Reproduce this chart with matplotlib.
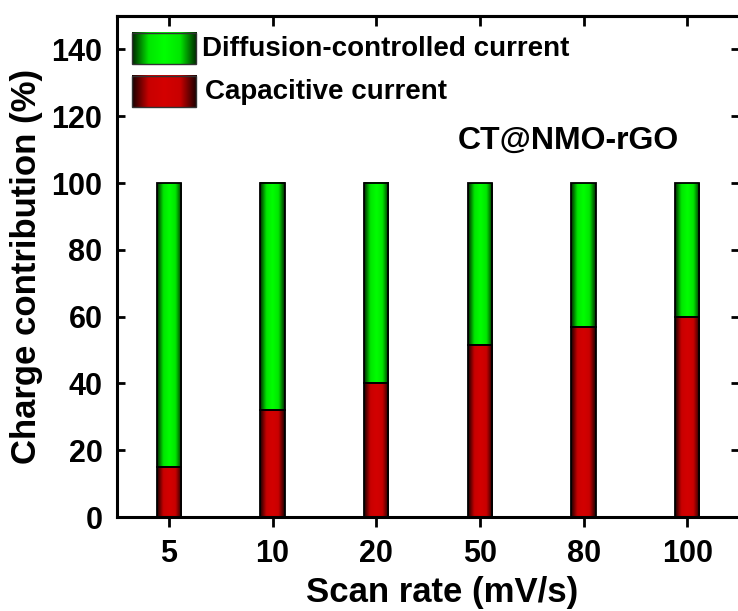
import numpy as np
import matplotlib.pyplot as plt
from matplotlib.colors import LinearSegmentedColormap

plt.rcParams["font.family"] = ["Liberation Sans", "DejaVu Sans"]
plt.rcParams["font.weight"] = "bold"

scan_rates = ["5", "10", "20", "50", "80", "100"]
capacitive = [15, 32, 40, 51.5, 57, 60]
diffusion = [100 - c for c in capacitive]

RED_CMAP = LinearSegmentedColormap.from_list("red", ["#1a0000", "#c80000", "#d40000", "#c80000", "#1a0000"])
GREEN_CMAP = LinearSegmentedColormap.from_list("green", ["#002800", "#00e600", "#00ff00", "#00e600", "#002800"])
GRAD = np.linspace(0, 1, 64).reshape(1, -1)


def gradient_rect(ax, x0, x1, y0, y1, cmap, **kw):
    ax.imshow(GRAD, cmap=cmap, extent=(x0, x1, y0, y1), aspect="auto",
              interpolation="bicubic", zorder=2, **kw)


fig = plt.figure(figsize=(7.38, 6.11), dpi=100)
ax = fig.add_axes([0.1585, 0.1538, 0.843, 0.82])

x = np.arange(len(scan_rates))
width = 0.235
red_bars = ax.bar(x, capacitive, width, facecolor="none", edgecolor="black", lw=1.3, zorder=3)
green_bars = ax.bar(x, diffusion, width, bottom=capacitive, facecolor="none",
                    edgecolor="black", lw=1.3, zorder=3)
for rb, gb in zip(red_bars, green_bars):
    x0, x1 = rb.get_x(), rb.get_x() + rb.get_width()
    gradient_rect(ax, x0, x1, rb.get_y(), rb.get_y() + rb.get_height(), RED_CMAP)
    gradient_rect(ax, x0, x1, gb.get_y(), gb.get_y() + gb.get_height(), GREEN_CMAP)

# legend drawn by hand so the swatches keep the gradient look
legend_items = [("Diffusion-controlled current", GREEN_CMAP, 0.966, 0.136),
                ("Capacitive current", RED_CMAP, 0.880, 0.141)]
for label, cmap, ytop, xtxt in legend_items:
    h = 0.062
    ax.imshow(GRAD, cmap=cmap, extent=(0.024, 0.127, ytop - h, ytop), aspect="auto",
              transform=ax.transAxes, interpolation="bicubic", zorder=4)
    ax.add_patch(plt.Rectangle((0.024, ytop - h), 0.103, h, transform=ax.transAxes,
                               fill=False, edgecolor="#333333", lw=1.0, zorder=5))
    ax.text(xtxt, ytop - h / 2, label, transform=ax.transAxes, fontsize=20,
            fontweight="bold", va="center", ha="left")

ax.text(0.725, 0.75, "CT@NMO-rGO", transform=ax.transAxes, fontsize=23,
        fontweight="bold", ha="center", va="center")

ax.set_xlim(-0.5, 5.5)
ax.set_ylim(0, 150)
ax.set_xticks(x)
ax.set_xticklabels(scan_rates)
ax.set_yticks(range(0, 141, 20))
ax.tick_params(axis="x", direction="out", length=7, width=2, labelsize=22, pad=9)
ax.tick_params(axis="y", direction="in", length=6, width=2, labelsize=22, pad=10.5,
               right=True)
for lab in ax.get_xticklabels() + ax.get_yticklabels():
    lab.set_fontweight("bold")

top = ax.secondary_xaxis("top")
top.set_xticks(x)
top.tick_params(direction="in", length=7, width=2, labeltop=False)
top.spines["top"].set_linewidth(2.2)

for sp in ax.spines.values():
    sp.set_linewidth(2.2)
ax.set_xlabel("Scan rate (mV/s)", fontsize=25, fontweight="bold", labelpad=7)
ax.xaxis.set_label_coords(0.522, -0.118)
ax.set_ylabel("Charge contribution (%)", fontsize=25, fontweight="bold", labelpad=6)

fig.savefig("out.png", dpi=100)
